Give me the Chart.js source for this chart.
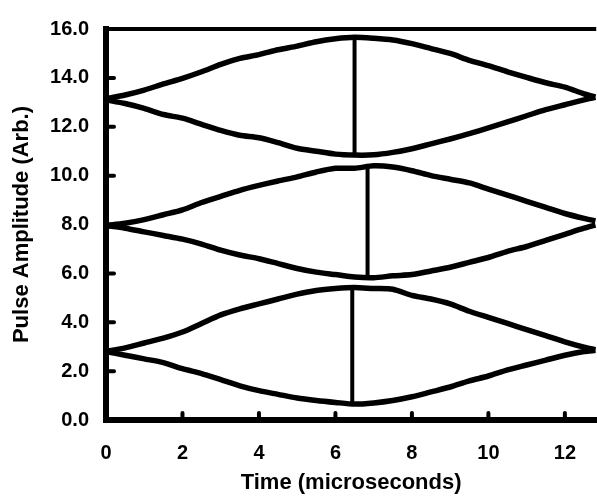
<!DOCTYPE html>
<html>
<head>
<meta charset="utf-8">
<script src="https://cdn.jsdelivr.net/npm/chart.js@4/dist/chart.umd.min.js"></script>
<style>
  html, body { margin:0; padding:0; background:#fff; }
  #wrap { width:597px; height:501px; }
</style>
</head>
<body>
<div id="wrap"><canvas id="chart" width="597" height="501"></canvas></div>
<script>
// time axis (microseconds), shared by all envelope traces
const timeUs = [0, 0.5, 1.0, 1.5, 2.0, 2.5, 3.0, 3.5, 4.0, 4.5, 5.0, 5.5, 6.0, 6.5, 7.0, 7.5, 8.0, 8.5, 9.0, 9.5, 10.0, 10.5, 11.0, 11.5, 12.0, 12.5, 12.8];

// top pair
const topUpper = [13.15, 13.3, 13.5, 13.75, 13.98, 14.25, 14.55, 14.8, 14.95, 15.15, 15.3, 15.48, 15.6, 15.66, 15.62, 15.55, 15.4, 15.2, 15.0, 14.72, 14.5, 14.25, 14.02, 13.8, 13.62, 13.35, 13.22];
const topLower = [13.1, 12.95, 12.75, 12.5, 12.35, 12.1, 11.85, 11.65, 11.55, 11.35, 11.12, 11.0, 10.88, 10.84, 10.85, 10.95, 11.1, 11.3, 11.5, 11.72, 11.95, 12.2, 12.45, 12.7, 12.9, 13.1, 13.2];

// middle pair
const midUpper = [7.96, 8.05, 8.2, 8.4, 8.6, 8.9, 9.15, 9.4, 9.6, 9.78, 9.95, 10.15, 10.3, 10.3, 10.4, 10.35, 10.2, 10.0, 9.85, 9.7, 9.45, 9.2, 8.95, 8.7, 8.45, 8.25, 8.15];
const midLower = [7.95, 7.85, 7.7, 7.55, 7.4, 7.2, 6.95, 6.75, 6.6, 6.4, 6.2, 6.05, 5.95, 5.85, 5.82, 5.9, 5.95, 6.1, 6.25, 6.45, 6.65, 6.9, 7.1, 7.35, 7.6, 7.85, 7.98];

// bottom pair
const botUpper = [2.8, 2.95, 3.15, 3.35, 3.6, 3.95, 4.3, 4.55, 4.75, 4.95, 5.15, 5.3, 5.38, 5.42, 5.38, 5.35, 5.1, 4.95, 4.75, 4.45, 4.2, 3.95, 3.7, 3.45, 3.2, 2.98, 2.88];
const botLower = [2.8, 2.65, 2.5, 2.35, 2.1, 1.9, 1.65, 1.4, 1.2, 1.05, 0.9, 0.8, 0.72, 0.65, 0.7, 0.8, 0.95, 1.15, 1.35, 1.6, 1.8, 2.05, 2.25, 2.45, 2.65, 2.8, 2.85];

// vertical markers: [time, low, high]
const markers = [[6.5, 10.84, 15.66], [6.84, 5.85, 10.4], [6.44, 0.67, 5.4]];

const xTicks = [0, 2, 4, 6, 8, 10, 12];
const yTicks = [0, 2, 4, 6, 8, 10, 12, 14, 16];

const pts = ys => timeUs.map((t,i) => ({ x:t, y:ys[i] }));
const curve = ys => ({ data: pts(ys), borderColor:'#000', borderWidth:5.5, pointRadius:0, tension:0.25, fill:false });

const datasets = [topUpper, topLower, midUpper, midLower, botUpper, botLower].map(curve);
markers.forEach(m => datasets.push({
  data:[{x:m[0], y:m[1]}, {x:m[0], y:m[2]}],
  borderColor:'#000', borderWidth:4, pointRadius:0, fill:false
}));

// inward tick marks + top frame line
const frame = {
  id:'frame',
  afterDraw(c){
    const {ctx, chartArea:a, scales:{x, y}} = c;
    ctx.save();
    ctx.strokeStyle = '#000';
    ctx.lineCap = 'round';
    ctx.lineWidth = 4;
    xTicks.slice(1).forEach(v => {
      const px = x.getPixelForValue(v);
      ctx.beginPath(); ctx.moveTo(px, a.bottom); ctx.lineTo(px, a.bottom - 7); ctx.stroke();
    });
    yTicks.slice(1, -1).forEach(v => {
      const py = y.getPixelForValue(v);
      ctx.beginPath(); ctx.moveTo(a.left, py); ctx.lineTo(a.left + 8, py); ctx.stroke();
    });
    ctx.lineCap = 'butt';
    ctx.lineWidth = 4;
    ctx.beginPath(); ctx.moveTo(a.left, a.top); ctx.lineTo(a.right, a.top); ctx.stroke();
    ctx.restore();
  }
};

const fontTick = { family:'"Liberation Sans", Arial, sans-serif', size:20, weight:'bold' };
const fontTitle = { family:'"Liberation Sans", Arial, sans-serif', size:22, weight:'bold' };

new Chart(document.getElementById('chart'), {
  type:'line',
  data:{ datasets },
  plugins:[frame],
  options:{
    responsive:false,
    animation:false,
    layout:{ padding:{ top:22, right:0, left:0, bottom:0 } },
    plugins:{ legend:{ display:false }, tooltip:{ enabled:false } },
    scales:{
      x:{
        type:'linear', min:0, max:12.82,
        afterFit: s => { s.height = 81; },
        grid:{ display:false, drawTicks:false },
        border:{ display:true, color:'#000', width:6 },
        ticks:{ stepSize:2, includeBounds:false, padding:21, color:'#000', font:fontTick, maxRotation:0,
                callback: v => String(v) },
        title:{ display:true, text:'Time (microseconds)', color:'#000', font:fontTitle, padding:{ top:0, bottom:5 } }
      },
      y:{
        type:'linear', min:0, max:16,
        afterFit: s => { s.width = 106; },
        grid:{ display:false, drawTicks:false },
        border:{ display:true, color:'#000', width:6 },
        ticks:{ stepSize:2, padding:17, color:'#000', font:fontTick, callback: v => Number(v).toFixed(1) },
        title:{ display:true, text:'Pulse Amplitude (Arb.)', color:'#000', font:fontTitle, padding:{ top:9, bottom:0 } }
      }
    }
  }
});
</script>
</body>
</html>
